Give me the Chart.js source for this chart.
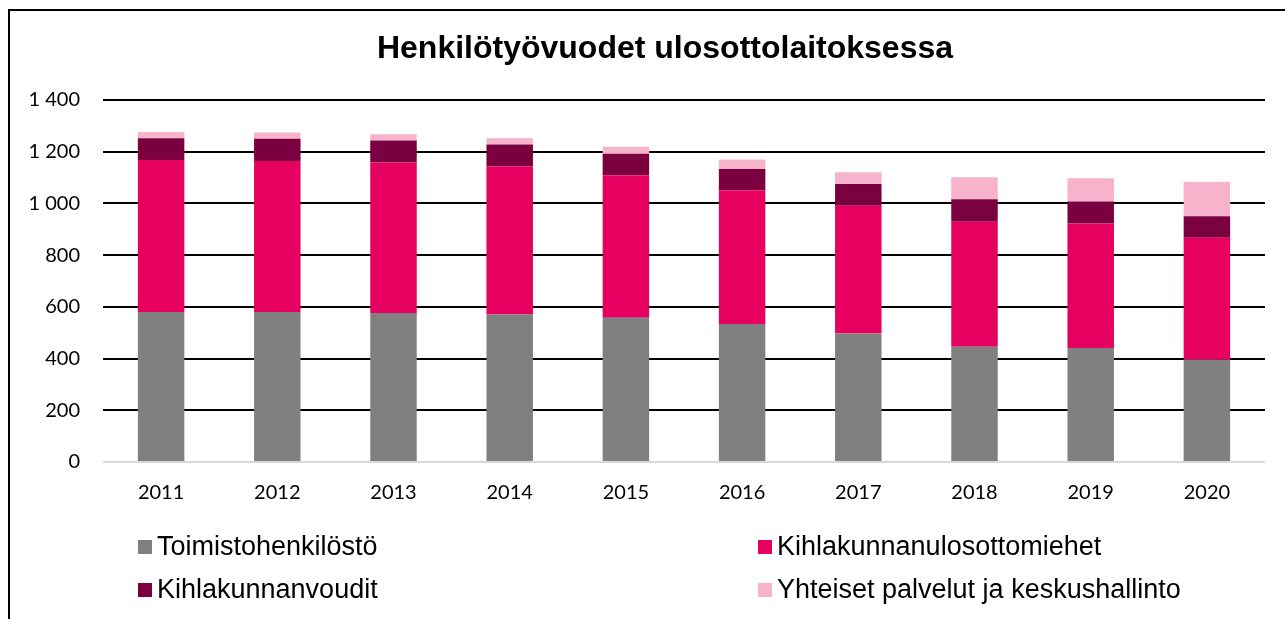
<!DOCTYPE html>
<html lang="fi">
<head>
<meta charset="utf-8">
<title>Henkilötyövuodet ulosottolaitoksessa</title>
<script src="https://cdn.jsdelivr.net/npm/chart.js@4"></script>
<style>
  html, body { margin: 0; padding: 0; background: #fff; overflow: hidden; }
  #wrap { position: relative; width: 1285px; height: 619px; }
  #frame {
    position: absolute; left: 8px; top: 9px; width: 1400px; height: 700px;
    border-top: 2px solid #000; border-left: 2px solid #000;
  }
  #henkilotChart { position: absolute; left: 0; top: 0; }
</style>
</head>
<body>
<div id="wrap">
  <div id="frame"></div>
  <canvas id="henkilotChart" width="1285" height="619"></canvas>
</div>
<script>
const years = ['2011', '2012', '2013', '2014', '2015', '2016', '2017', '2018', '2019', '2020'];
const toimistohenkilosto = [580, 580, 576, 570, 558, 534, 497, 446, 441, 395];
const ulosottomiehet = [588, 584, 582, 574, 551, 517, 494, 483, 481, 472];
const kihlakunnanvoudit = [84, 86, 85, 84, 83, 82, 84, 87, 85, 83];
const yhteisetPalvelut = [24, 24, 25, 24, 27, 37, 46, 85, 90, 134];
const yTicks = [0, 200, 400, 600, 800, 1000, 1200, 1400];

const seriesNames = ['Toimistohenkilöstö', 'Kihlakunnanulosottomiehet', 'Kihlakunnanvoudit', 'Yhteiset palvelut ja keskushallinto'];
const seriesColors = ['#808080', '#e60060', '#7a003f', '#f6b3cb'];

//  thousands with a space, "1 400"
function formatThousands(value) {
  return String(value).replace(/\B(?=(\d{3})+(?!\d))/g, ' ');
}

//  centre the title a bit right of the canvas middle
const titleShift = {
  id: 'titleShift',
  afterLayout(chart) {
    chart.titleBlock.left = 65;
    chart.titleBlock.right = 1265;
  }
};

//  two-column legend under the x axis
const bottomLegend = {
  id: 'bottomLegend',
  afterDraw(chart) {
    const ctx = chart.ctx;
    const columns = [138, 758];
    const rows = [547, 590];
    const box = 14;
    ctx.save();
    ctx.font = '27px "Liberation Sans", Arial, sans-serif';
    ctx.textBaseline = 'middle';
    chart.data.datasets.forEach((ds, i) => {
      const x = columns[i % 2];
      const y = rows[Math.floor(i / 2)];
      ctx.fillStyle = ds.backgroundColor;
      ctx.fillRect(x, y - box / 2, box, box);
      ctx.fillStyle = '#000';
      ctx.fillText(ds.label, x + box + 5, y + 1);
    });
    ctx.restore();
  }
};

const datasets = [toimistohenkilosto, ulosottomiehet, kihlakunnanvoudit, yhteisetPalvelut].map((values, i) => ({
  label: seriesNames[i],
  data: values,
  backgroundColor: seriesColors[i],
  borderWidth: 0,
  barPercentage: 0.4,
  categoryPercentage: 1
}));

let stackedChart = new Chart(document.getElementById('henkilotChart').getContext('2d'), {
  type: 'bar',
  data: { labels: years, datasets: datasets },
  options: {
    responsive: false,
    animation: false,
    layout: { padding: { left: 10, right: 20, top: 0, bottom: 95 } },
    plugins: {
      legend: { display: false },
      tooltip: { enabled: false },
      title: {
        display: true,
        text: 'Henkilötyövuodet ulosottolaitoksessa',
        color: '#000',
        font: { family: '"Liberation Sans", Arial, sans-serif', size: 32, weight: 'bold' },
        padding: { top: 30, bottom: 31.6 }
      }
    },
    scales: {
      x: {
        stacked: true,
        grid: { display: false, drawTicks: false },
        border: { display: false },
        ticks: {
          color: '#000',
          padding: 19,
          font: { family: 'Lato, "Open Sans", sans-serif', size: 20 }
        }
      },
      y: {
        stacked: true,
        min: 0,
        max: 1400,
        afterFit: (scale) => { scale.width = 93; },
        afterBuildTicks: (scale) => { scale.ticks = yTicks.map(v => ({ value: v })); },
        grid: {
          drawTicks: false,
          lineWidth: 2,
          color: (c) => (c.tick && c.tick.value === 0 ? '#d9d9d9' : '#000')
        },
        border: { display: false },
        ticks: {
          color: '#000',
          padding: 23,
          font: { family: 'Lato, "Open Sans", sans-serif', size: 20 },
          callback: (value) => formatThousands(value)
        }
      }
    }
  },
  plugins: [titleShift, bottomLegend]
});
</script>
</body>
</html>
